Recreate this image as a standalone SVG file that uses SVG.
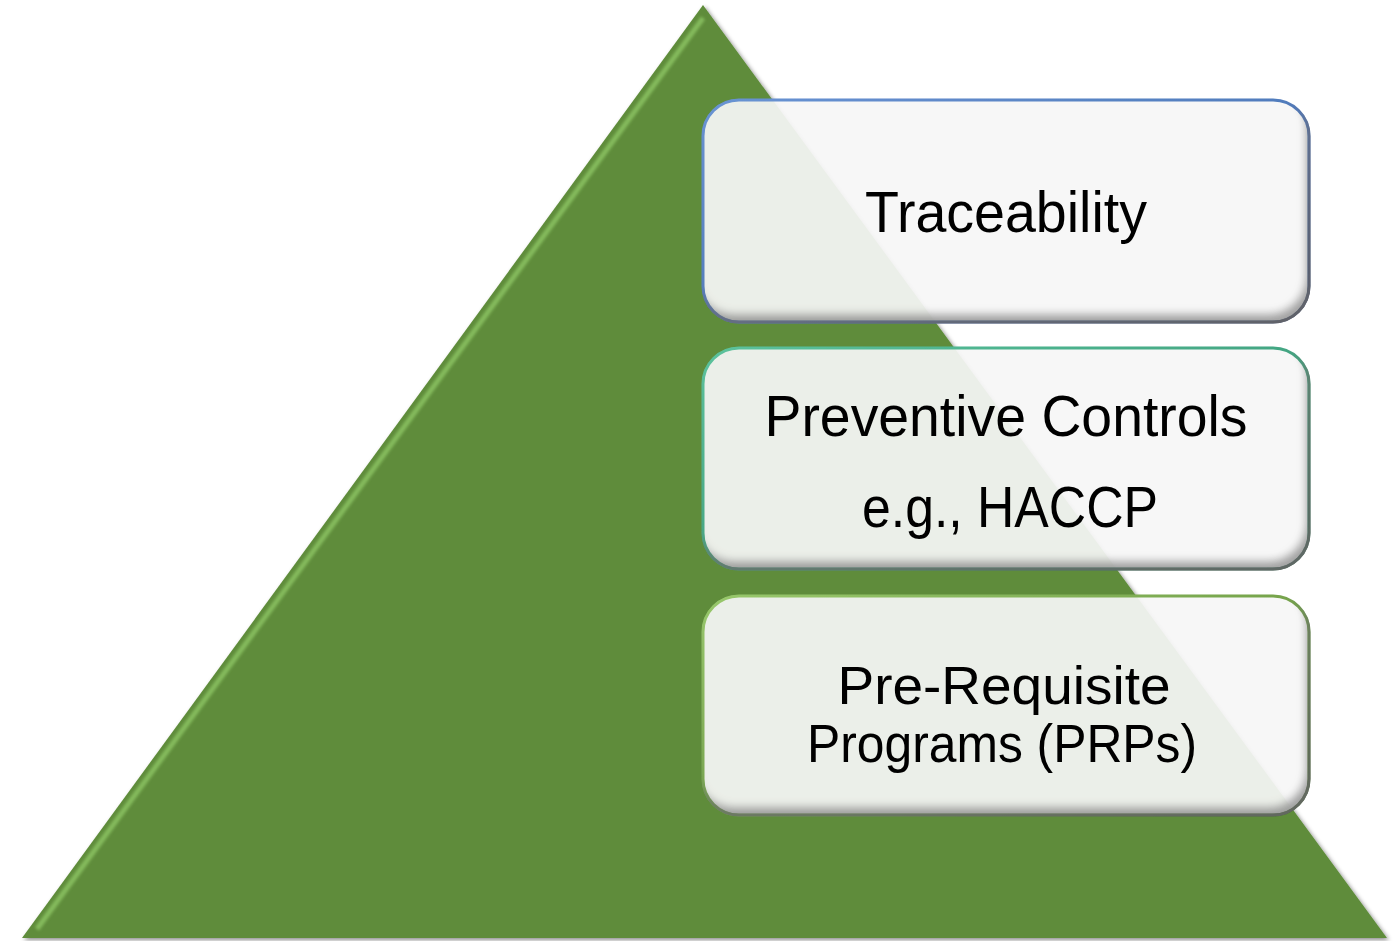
<svg xmlns="http://www.w3.org/2000/svg" width="1396" height="941" viewBox="0 0 1396 941">
  <defs>
    <style>
      .label { font-family: "Liberation Sans", Arial, sans-serif; font-size: 58px; fill: #000; text-anchor: middle; }
      .label.tight { font-size: 53px; }
      .card { fill: #fdfdfd; fill-opacity: 0.92; stroke-width: 3; }
    </style>
    <!-- soft outer shadow for the pyramid -->
    <filter id="pyrShadow" x="-5%" y="-5%" width="110%" height="110%">
      <feGaussianBlur in="SourceAlpha" stdDeviation="2"/>
      <feOffset dx="2" dy="2" result="sh"/>
      <feFlood flood-color="#000" flood-opacity="0.45"/>
      <feComposite in2="sh" operator="in" result="shadow"/>
      <feMerge><feMergeNode in="shadow"/><feMergeNode in="SourceGraphic"/></feMerge>
    </filter>
    <filter id="soft" x="-5%" y="-5%" width="110%" height="110%">
      <feGaussianBlur stdDeviation="1.8"/>
    </filter>
    <!-- inner shadow along the lower right of each card -->
    <filter id="inset" x="-5%" y="-5%" width="110%" height="110%">
      <feOffset in="SourceAlpha" dx="-5" dy="-10" result="off"/>
      <feGaussianBlur in="off" stdDeviation="4" result="offBlur"/>
      <feComposite in="SourceAlpha" in2="offBlur" operator="out" result="rim"/>
      <feFlood flood-color="#6a6a6a" flood-opacity="0.8"/>
      <feComposite in2="rim" operator="in" result="inner"/>
      <feMerge><feMergeNode in="SourceGraphic"/><feMergeNode in="inner"/></feMerge>
    </filter>
    <linearGradient id="edgeBlue" x1="0" y1="0" x2="1" y2="1">
      <stop offset="0" stop-color="#6a96d8"/>
      <stop offset="0.6" stop-color="#4a78bb"/>
      <stop offset="1" stop-color="#243d66"/>
    </linearGradient>
    <linearGradient id="edgeTeal" x1="0" y1="0" x2="1" y2="1">
      <stop offset="0" stop-color="#5cc7a0"/>
      <stop offset="0.6" stop-color="#3aa27e"/>
      <stop offset="1" stop-color="#1f5f4a"/>
    </linearGradient>
    <linearGradient id="edgeGreen" x1="0" y1="0" x2="1" y2="1">
      <stop offset="0" stop-color="#9ccd6e"/>
      <stop offset="0.6" stop-color="#6f9e43"/>
      <stop offset="1" stop-color="#3d5f22"/>
    </linearGradient>
  </defs>

  <rect width="1396" height="941" fill="#ffffff"/>

  <!-- pyramid -->
  <g id="pyramid">
    <polygon points="703,5 1387,938 22,938" fill="#5e8c3b" filter="url(#pyrShadow)"/>
    <!-- bevel highlight on the left face and darker base rim -->
    <line x1="37" y1="929" x2="703" y2="18" stroke="#8cc463" stroke-width="5" filter="url(#soft)" opacity="0.85"/>
    <line x1="30" y1="934" x2="1380" y2="934" stroke="#44702a" stroke-width="5" filter="url(#soft)"/>
  </g>

  <g id="connectors"></g>

  <!-- tier cards -->
  <g id="node-traceability">
    <rect class="card" x="703" y="100" width="606" height="222" rx="36" stroke="url(#edgeBlue)" filter="url(#inset)"/>
    <text class="label" x="1006" y="232" textLength="282" lengthAdjust="spacingAndGlyphs">Traceability</text>
  </g>

  <g id="node-preventive-controls">
    <rect class="card" x="703" y="348" width="606" height="221" rx="36" stroke="url(#edgeTeal)" filter="url(#inset)"/>
    <text class="label" x="1006" y="436" textLength="483" lengthAdjust="spacingAndGlyphs">Preventive Controls</text>
    <text class="label" x="1010" y="527" textLength="296" lengthAdjust="spacingAndGlyphs">e.g., HACCP</text>
  </g>

  <g id="node-prps">
    <rect class="card" x="703" y="596" width="606" height="219" rx="36" stroke="url(#edgeGreen)" filter="url(#inset)"/>
    <text class="label tight" x="1004" y="704" textLength="333" lengthAdjust="spacingAndGlyphs">Pre-Requisite</text>
    <text class="label tight" x="1002" y="762" textLength="390" lengthAdjust="spacingAndGlyphs">Programs (PRPs)</text>
  </g>
</svg>
